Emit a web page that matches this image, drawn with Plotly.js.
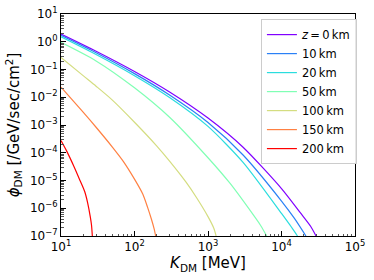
<!DOCTYPE html>
<html><head><meta charset="utf-8">
<script src="https://cdn.plot.ly/plotly-3.0.1.min.js"></script>
<style>html,body{margin:0;padding:0;background:#fff}#c{width:374px;height:280px}</style>
</head><body><div id="c"></div>
<script>
// series labels
const names = ['<i>z</i>\u2009=\u20090\u2009km','10\u2009km','20\u2009km','50\u2009km','100\u2009km','150\u2009km','200\u2009km'];
const colors = ['#8000ff','#2a80f6','#2addde','#80ffb4','#d4dd80','#ff8042','#ff0000'];
// tick positions and labels
const xTickVals = [1e1,1e2,1e3,1e4,1e5];
const xTickText = ['10<sup>1</sup>','10<sup>2</sup>','10<sup>3</sup>','10<sup>4</sup>','10<sup>5</sup>'];
const yTickVals = [1e1,1e0,1e-1,1e-2,1e-3,1e-4,1e-5,1e-6,1e-7];
const yTickText = ['10<sup>1</sup>','10<sup>0</sup>','10<sup>−1</sup>','10<sup>−2</sup>','10<sup>−3</sup>','10<sup>−4</sup>','10<sup>−5</sup>','10<sup>−6</sup>','10<sup>−7</sup>'];
// K_DM [MeV] and phi_DM values
const k0  = [10,30,100,300,1000,3000,10000,18000,25000,29500];
const p0  = [1.9,0.457,0.085,0.0155,1.78e-3,1.58e-4,5.1e-6,6.9e-7,2.2e-7,1e-7];
const k10 = [10,30,100,300,1000,3000,10000,15000,21500];
const p10 = [1.7,0.40,0.071,0.012,1.23e-3,8.3e-5,1.82e-6,4.3e-7,1e-7];
const k20 = [10,30,100,300,1000,3000,10000,13000,16500];
const p20 = [1.5,0.347,0.060,9.8e-3,8.9e-4,4.5e-5,6.5e-7,2.5e-7,1e-7];
const k50 = [10,30,100,300,1000,2000,4000,5200,6300];
const p50 = [0.95,0.204,0.0219,1.9e-3,6.6e-5,7.8e-6,6.5e-7,2.4e-7,1e-7];
const k100 = [10,20,30,50,100,200,300,500,700,1000,1200,1290];
const p100 = [0.27,0.06,0.025,7.9e-3,1.26e-3,1.78e-4,5e-5,8.9e-6,2.4e-6,5e-7,1.9e-7,1e-7];
const k150 = [10,20,30,50,70,100,130,150,170,185,194];
const p150 = [0.023,2.9e-3,8.3e-4,1.6e-4,5e-5,1.12e-5,3.2e-6,1.12e-6,4e-7,1.8e-7,1e-7];
const k200 = [10,12,15,18,21,23,25,26,26.7];
const p200 = [2.75e-4,1.12e-4,3.2e-5,1.05e-5,4e-6,1.6e-6,5e-7,2.5e-7,1e-7];

const xs = [k0,k10,k20,k50,k100,k150,k200];
const ys = [p0,p10,p20,p50,p100,p150,p200];
const traces = xs.map((x,i)=>({x:x,y:ys[i],type:'scatter',mode:'lines',name:names[i],
  line:{color:colors[i],width:1.2,shape:'spline',smoothing:0.7}}));

const F = 'DejaVu Sans, sans-serif';
const axisCommon = {type:'log',showgrid:false,zeroline:false,showline:true,linecolor:'#000',linewidth:1,
  mirror:true,ticks:'inside',ticklen:5,tickcolor:'#000',tickmode:'array',
  tickfont:{family:F,size:12,color:'#000'},
  minor:{ticks:'inside',ticklen:2.5,tickcolor:'#555',dtick:'D1',showgrid:false}};
const layout = {
  width:374,height:280,margin:{l:61,r:19,t:14,b:44},paper_bgcolor:'#fff',plot_bgcolor:'#fff',
  font:{family:F,color:'#000'},
  xaxis:Object.assign({},axisCommon,{range:[1,5],tickvals:xTickVals,ticktext:xTickText,
    title:{text:'<i>K</i><sub>DM</sub> [MeV]',font:{family:F,size:15},standoff:4}}),
  yaxis:Object.assign({},axisCommon,{range:[-7,1],tickvals:yTickVals,ticktext:yTickText,
    title:{text:'<i>ϕ</i><sub>DM</sub> [/GeV/sec/cm<sup>2</sup>]',font:{family:F,size:15},standoff:6}}),
  legend:{x:0.68,y:0.977,xanchor:'left',yanchor:'top',bgcolor:'rgba(255,255,255,0.9)',
    bordercolor:'#cccccc',borderwidth:1,itemwidth:30,font:{family:F,size:11.5,color:'#000'}},
  showlegend:true
};
Plotly.newPlot('c',traces,layout,{displayModeBar:false,staticPlot:true});
</script></body></html>
